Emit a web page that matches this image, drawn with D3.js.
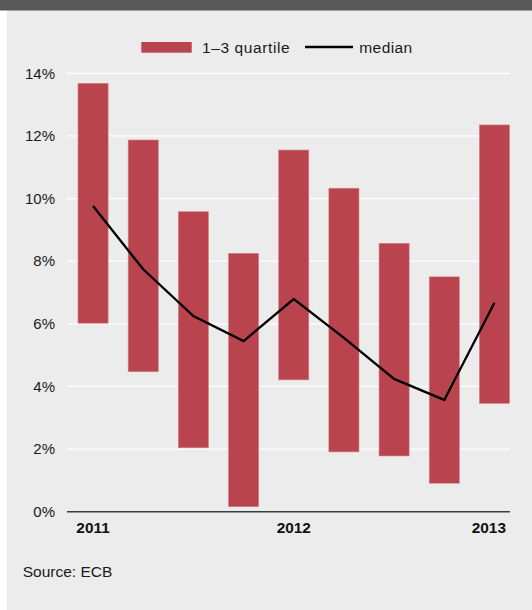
<!DOCTYPE html>
<html>
<head>
<meta charset="utf-8">
<script src="https://cdn.jsdelivr.net/npm/d3@7"></script>
<style>
  html, body { margin: 0; padding: 0; background: #ffffff; }
  svg { display: block; font-family: "Liberation Sans", Arial, Helvetica, sans-serif; }
</style>
</head>
<body>
<svg id="chart" width="532" height="610"></svg>
<script>
// Quarterly observations, 2011 Q1 – 2013 Q1
const quarters = ["2011 Q1", "2011 Q2", "2011 Q3", "2011 Q4", "2012 Q1", "2012 Q2", "2012 Q3", "2012 Q4", "2013 Q1"];
// Interquartile range (first and third quartile), percent
const quartile1 = [6.02, 4.47, 2.04, 0.16, 4.21, 1.91, 1.78, 0.91, 3.46];
const quartile3 = [13.68, 11.87, 9.58, 8.25, 11.55, 10.33, 8.57, 7.50, 12.35];
// Median, percent
const median = [9.76, 7.74, 6.25, 5.45, 6.79, 5.55, 4.24, 3.57, 6.67];
// Axis ticks
const yTicks = [0, 2, 4, 6, 8, 10, 12, 14];
const yearLabels = [
  { quarter: "2011 Q1", text: "2011" },
  { quarter: "2012 Q1", text: "2012" },
  { quarter: "2013 Q1", text: "2013" }
];
const legendItems = ["1–3 quartile", "median"];
const sourceText = "Source: ECB";

const barColor = "#b9444d";
const svg = d3.select("#chart");

// Panel background and header band
svg.append("rect").attr("x", 7).attr("y", 0).attr("width", 525).attr("height", 610).attr("fill", "#ebeceb");
svg.append("rect").attr("x", 0).attr("y", 0).attr("width", 532).attr("height", 10.5).attr("fill", "#58585a");

const plotLeft = 67, plotRight = 510;
const y = d3.scaleLinear().domain([0, 14]).range([511.7, 73.3]);
const x = d3.scaleBand().domain(quarters).range([78, 509.5]).paddingInner(0.4).paddingOuter(0);

// Horizontal gridlines
svg.append("g").selectAll("line").data(yTicks.filter(d => d > 0)).join("line")
  .attr("x1", plotLeft).attr("x2", plotRight)
  .attr("y1", d => y(d)).attr("y2", d => y(d))
  .attr("stroke", "#ffffff").attr("stroke-width", 1.3);

// Y tick labels
svg.append("g").selectAll("text").data(yTicks).join("text")
  .attr("x", 55).attr("y", d => y(d)).attr("dy", "0.35em")
  .attr("text-anchor", "end").attr("font-size", 15).attr("fill", "#1a1a1a")
  .text(d => d + "%");

// Interquartile bars
svg.append("g").selectAll("rect").data(quarters).join("rect")
  .attr("x", d => x(d)).attr("width", x.bandwidth())
  .attr("y", (d, i) => y(quartile3[i]))
  .attr("height", (d, i) => y(quartile1[i]) - y(quartile3[i]))
  .attr("fill", barColor).attr("stroke", "#d3828a").attr("stroke-width", 0.6);

// Baseline
svg.append("line").attr("x1", plotLeft).attr("x2", plotRight)
  .attr("y1", y(0)).attr("y2", y(0))
  .attr("stroke", "#3c3c3c").attr("stroke-width", 1.5);

// Median line
const line = d3.line()
  .x((d, i) => x(quarters[i]) + x.bandwidth() / 2)
  .y(d => y(d));
svg.append("path").datum(median).attr("d", line)
  .attr("fill", "none").attr("stroke", "#000000").attr("stroke-width", 2.3)
  .attr("stroke-linejoin", "miter");

// Year labels on the first quarter of each year
svg.append("g").selectAll("text").data(yearLabels).join("text")
  .attr("x", (d, i) => {
    const cx = x(d.quarter) + x.bandwidth() / 2;
    return i === yearLabels.length - 1 ? plotRight - 4 : cx;
  })
  .attr("y", 533.3)
  .attr("text-anchor", (d, i) => i === yearLabels.length - 1 ? "end" : "middle")
  .attr("font-size", 15.4).attr("font-weight", "bold").attr("fill", "#111111")
  .text(d => d.text);

// Legend
const legend = svg.append("g");
legend.append("rect").attr("x", 141.3).attr("y", 42).attr("width", 50.4).attr("height", 10.7).attr("fill", barColor);
legend.append("text").attr("x", 202).attr("y", 52.5).attr("font-size", 15.5).attr("fill", "#1a1a1a")
  .attr("letter-spacing", 0.6).text(legendItems[0]);
legend.append("line").attr("x1", 305).attr("x2", 353).attr("y1", 47).attr("y2", 47)
  .attr("stroke", "#000000").attr("stroke-width", 2.3);
legend.append("text").attr("x", 359.3).attr("y", 52.5).attr("font-size", 15.5).attr("fill", "#1a1a1a")
  .attr("letter-spacing", 0.4).text(legendItems[1]);

// Source note
svg.append("text").attr("x", 22.7).attr("y", 576.5).attr("font-size", 15.5).attr("fill", "#1a1a1a")
  .text(sourceText);
</script>
</body>
</html>
